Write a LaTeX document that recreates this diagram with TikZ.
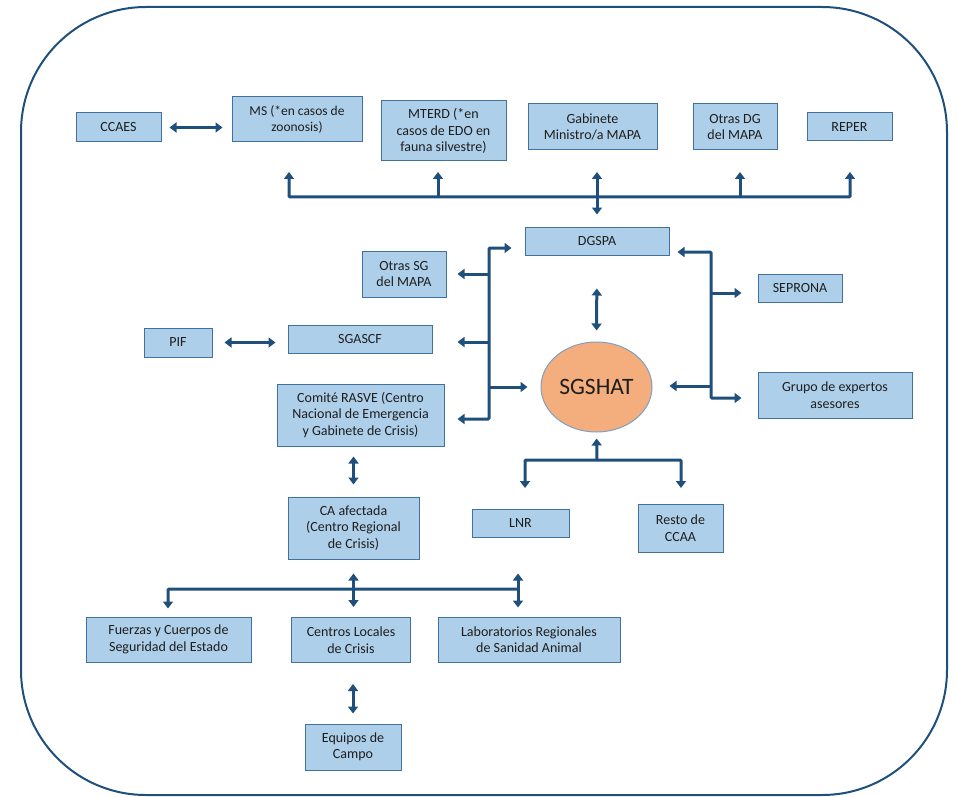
\documentclass[tikz,border=0pt]{standalone}
\usepackage{fontspec}
\setmainfont{Carlito}
\usetikzlibrary{shapes.geometric, arrows.meta}
\definecolor{cajaazul}{RGB}{174,207,233}
\definecolor{bordeazul}{RGB}{65,113,156}
\definecolor{flecha}{RGB}{31,80,124}
\definecolor{naranja}{RGB}{244,174,126}
\definecolor{bordeelipse}{RGB}{128,158,192}
\definecolor{texto}{RGB}{30,30,30}

\begin{document}
\begin{tikzpicture}[x=1pt, y=-1pt,
    caja/.style = {draw=bordeazul, fill=cajaazul, line width=1pt, align=center, inner sep=0pt,
                   text=texto, font=\fontsize{14}{16.5}\selectfont},
    linea/.style = {draw=flecha, line width=3pt, rounded corners=1pt},
    fl/.style = {linea, -{Triangle[width=10pt,length=7pt]}},
    dfl/.style = {linea, {Triangle[width=10pt,length=7pt]}-{Triangle[width=10pt,length=7pt]}}]
    \useasboundingbox (0,0) rectangle (959,797);
    % Marco
    \draw[flecha, line width=2pt, rounded corners=125pt] (21,7) rectangle (947,795);
    % Fila superior
    \node[caja, minimum width=85pt, minimum height=29pt] (ccaes) at (118.5,127.5) {CCAES};
    \node[caja, minimum width=130pt, minimum height=45pt, font=\fontsize{13.5}{16.5}\selectfont] (ms) at (297,119.5) {MS (*en casos de\\zoonosis)};
    \node[caja, minimum width=125pt, minimum height=60pt] (mterd) at (443.5,131) {MTERD (*en\\casos de EDO en\\fauna silvestre)};
    \node[caja, minimum width=129pt, minimum height=46pt] (gabinete) at (592.5,127) {Gabinete\\Ministro/a MAPA};
    \node[caja, minimum width=84pt, minimum height=46pt] (otrasdg) at (735,127) {Otras DG\\del MAPA};
    \node[caja, minimum width=85pt, minimum height=28pt] (reper) at (849.5,127) {REPER};
    % Centro
    \node[caja, minimum width=144pt, minimum height=28pt] (dgspa) at (597,241) {DGSPA};
    \node[caja, minimum width=84pt, minimum height=46pt] (otrassg) at (404,274) {Otras SG\\del MAPA};
    \node[caja, minimum width=68pt, minimum height=29pt] (pif) at (178,342.5) {PIF};
    \node[caja, minimum width=144pt, minimum height=28pt] (sgascf) at (360,339) {SGASCF};
    \node[caja, minimum width=167pt, minimum height=62pt] (comite) at (360.5,415) {Comité RASVE (Centro\\Nacional de Emergencia\\y Gabinete de Crisis)};
    \node[ellipse, draw=bordeelipse, fill=naranja, line width=1pt, inner sep=0pt, text=texto,
          minimum width=111pt, minimum height=90pt, font=\fontsize{23.5}{23.5}\selectfont] (sgshat) at (596.5,387) {SGSHAT};
    \node[caja, minimum width=84pt, minimum height=28pt] (seprona) at (800,288) {SEPRONA};
    \node[caja, minimum width=154pt, minimum height=46pt] (grupo) at (835,395) {Grupo de expertos\\asesores};
    % Abajo
    \node[caja, minimum width=131pt, minimum height=62pt] (ca) at (353.5,528) {CA afectada\\(Centro Regional\\de Crisis)};
    \node[caja, minimum width=97pt, minimum height=28pt] (lnr) at (520.5,523) {LNR};
    \node[caja, minimum width=85pt, minimum height=48pt] (resto) at (680.5,528) {Resto de\\CCAA};
    \node[caja, minimum width=165pt, minimum height=45pt] (fuerzas) at (168.5,639.5) {Fuerzas y Cuerpos de\\Seguridad del Estado};
    \node[caja, minimum width=119pt, minimum height=45pt] (centros) at (351,640) {Centros Locales\\de Crisis};
    \node[caja, minimum width=182pt, minimum height=45pt] (labs) at (529,639.5) {Laboratorios Regionales\\de Sanidad Animal};
    \node[caja, minimum width=96pt, minimum height=46pt] (equipos) at (353,747) {Equipos de\\Campo};
    % Puntos de las barras
    \coordinate (cima) at (0,172);
    \coordinate (bajo) at (0,488);
    \coordinate (tb1) at (289,197);
    \coordinate (tb2) at (438,197);
    \coordinate (tb3) at (597,197);
    \coordinate (tb4) at (740,197);
    \coordinate (tb5) at (850,197);
    \coordinate (li1) at (489,248);
    \coordinate (li2) at (489,419);
    \coordinate (li3) at (489,342);
    \coordinate (li4) at (489,387);
    \coordinate (re1) at (711,252);
    \coordinate (re2) at (711,398);
    \coordinate (re3) at (711,293);
    \coordinate (re4) at (711,386);
    \coordinate (ab) at (597,460);
    \coordinate (ab1) at (525,460);
    \coordinate (ab2) at (681,460);
    \coordinate (bb1) at (168,589);
    \coordinate (bb3) at (518,589);
    % Flechas arriba
    \draw[dfl, shorten <=8pt, shorten >=9pt] (ccaes.east) -- (ccaes.east -| ms.west);
    \draw[dfl] (tb1 |- cima) -- (tb1) -- (tb5) -- (tb5 |- cima);
    \foreach \c in {tb2,tb4}{
        \draw[fl] (\c) -- (\c |- cima);
    }
    \draw[dfl, shorten >=12pt] (tb3 |- cima) -- (dgspa.north);
    % Barra izquierda
    \draw[dfl, shorten <=13pt, shorten >=13pt] (li2 -| comite.east) -- (li2) -- (li1) -- (li1 -| dgspa.west);
    \draw[fl, shorten >=11pt] (li1 |- otrassg) -- (otrassg.east);
    \draw[fl, shorten >=25pt] (li3) -- (li3 -| sgascf.east);
    \draw[fl, shorten >=13pt] (li4) -- (li4 -| sgshat.west);
    \draw[dfl, shorten <=12pt, shorten >=12pt] (pif.east) -- (pif.east -| sgascf.west);
    % Barra derecha
    \draw[dfl, shorten <=8pt, shorten >=16pt] (re1 -| dgspa.east) -- (re1) -- (re2) -- (re2 -| grupo.west);
    \draw[fl, shorten >=16pt] (re3) -- (re3 -| seprona.west);
    \draw[fl, shorten >=17pt] (re4) -- (re4 -| sgshat.east);
    \draw[dfl, shorten <=33pt, shorten >=11pt] (dgspa.south) -- (sgshat.north);
    % Debajo de SGSHAT
    \draw[fl, shorten >=6pt] (ab) -- (sgshat.south);
    \draw[dfl] (ab1 |- bajo) -- (ab1) -- (ab2) -- (ab2 |- bajo);
    % Comunidades
    \draw[dfl, shorten <=10pt, shorten >=12pt] (ca.north |- comite.south) -- (ca.north);
    \draw[fl, shorten >=8pt] (bb3) -- (bb1) -- (bb1 |- fuerzas.north);
    \draw[dfl, shorten <=14pt, shorten >=10pt] (ca.south) -- (ca.south |- centros.north);
    \draw[dfl, shorten <=36pt, shorten >=9pt] (bb3 |- lnr.south) -- (bb3 |- labs.north);
    \draw[dfl, shorten <=21pt, shorten >=10pt] (centros.south -| equipos.north) -- (equipos.north);
\end{tikzpicture}
\end{document}
